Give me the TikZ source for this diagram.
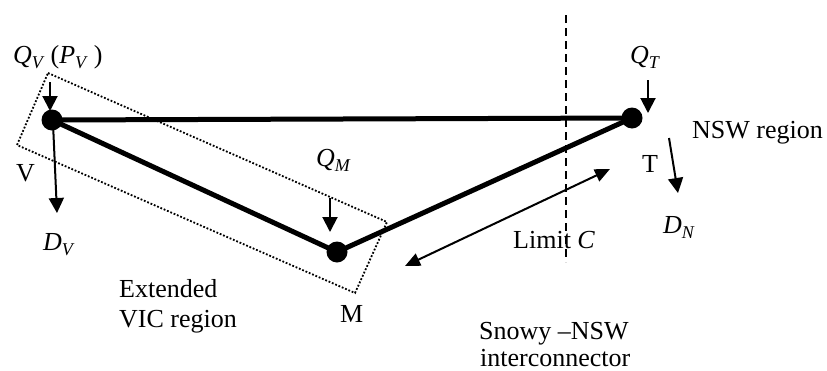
\documentclass[tikz,border=0pt]{standalone}
\usepackage{fontspec}
\setmainfont{Liberation Serif}
\usetikzlibrary{arrows.meta}
\newcommand\qsub[2]{\textit{#1}\raisebox{-5pt}{\fontsize{18}{18}\selectfont\textit{#2}}}
\begin{document}
\begin{tikzpicture}[x=1pt,y=-1pt,
  bus/.style={line width=5pt},
  dotnode/.style={circle,fill,inner sep=0pt,minimum size=21pt},
  flow/.style={line width=2pt,-{Triangle[length=15pt,width=15pt]}},
  twoway/.style={line width=2pt,{Triangle[length=15pt,width=13pt]}-{Triangle[length=15pt,width=13pt]}},
  lbl/.style={font=\fontsize{26}{30}\selectfont,inner sep=0pt,anchor=base west},
  region/.style={line width=1.8pt,dash pattern=on 1.8pt off 1.8pt},
  limitline/.style={line width=1.8pt,dash pattern=on 8pt off 5pt}]
\useasboundingbox (0,0) rectangle (827,370);
% region box
\draw[region] (48,73) -- (387,222) -- (355,293) -- (17,145) -- cycle;
% limit line
\coordinate (lim1) at (566,15);
\coordinate (lim2) at (566,262);
\draw[limitline] (lim1) -- (lim2);
% buses
\node[dotnode] (V) at (52,120) {};
\node[dotnode] (T) at (632,118) {};
\node[dotnode] (M) at (337,252) {};
\draw[bus] (V.center) -- (T.center);
\draw[bus] (V.center) -- (M.center) -- (T.center);
% flow arrows
\coordinate (qv1) at (50,82);  \coordinate (qv2) at (50,111);
\coordinate (dv1) at (53,123); \coordinate (dv2) at (57,213);
\coordinate (qm1) at (330,198); \coordinate (qm2) at (330,232);
\coordinate (qt1) at (648,80); \coordinate (qt2) at (648,113);
\coordinate (dn1) at (669,138); \coordinate (dn2) at (678,193);
\coordinate (c1) at (405,266); \coordinate (c2) at (610,169);
\draw[flow] (qv1) -- (qv2);
\draw[flow] (dv1) -- (dv2);
\draw[flow] (qm1) -- (qm2);
\draw[flow] (qt1) -- (qt2);
\draw[flow] (dn1) -- (dn2);
\draw[twoway] (c1) -- (c2);
% labels
\node[lbl] (lqv) at (13,63) {\qsub{Q}{V}\hspace{6pt}(\qsub{P}{V}\hspace{6pt})};
\node[lbl] (lv) at (16,181) {V};
\node[lbl] (ldv) at (43,250) {\qsub{D}{V}};
\node[lbl] (lqm) at (316,166) {\qsub{Q}{M}};
\node[lbl] (lm) at (340,322) {M};
\node[lbl] (lext1) at (119,297) {Extended};
\node[lbl] (lext2) at (119,327) {VIC region};
\node[lbl] (llim) at (513,248) {Limit \textit{C}};
\node[lbl] (lsn1) at (479,339) {Snowy –NSW};
\node[lbl] (lsn2) at (480,366) {interconnector};
\node[lbl] (lqt) at (630,63) {\qsub{Q}{T}};
\node[lbl] (lt) at (642,172) {T};
\node[lbl] (lnsw) at (692,138) {NSW region};
\node[lbl] (ldn) at (663,233) {\qsub{D}{N}};
\end{tikzpicture}
\end{document}
